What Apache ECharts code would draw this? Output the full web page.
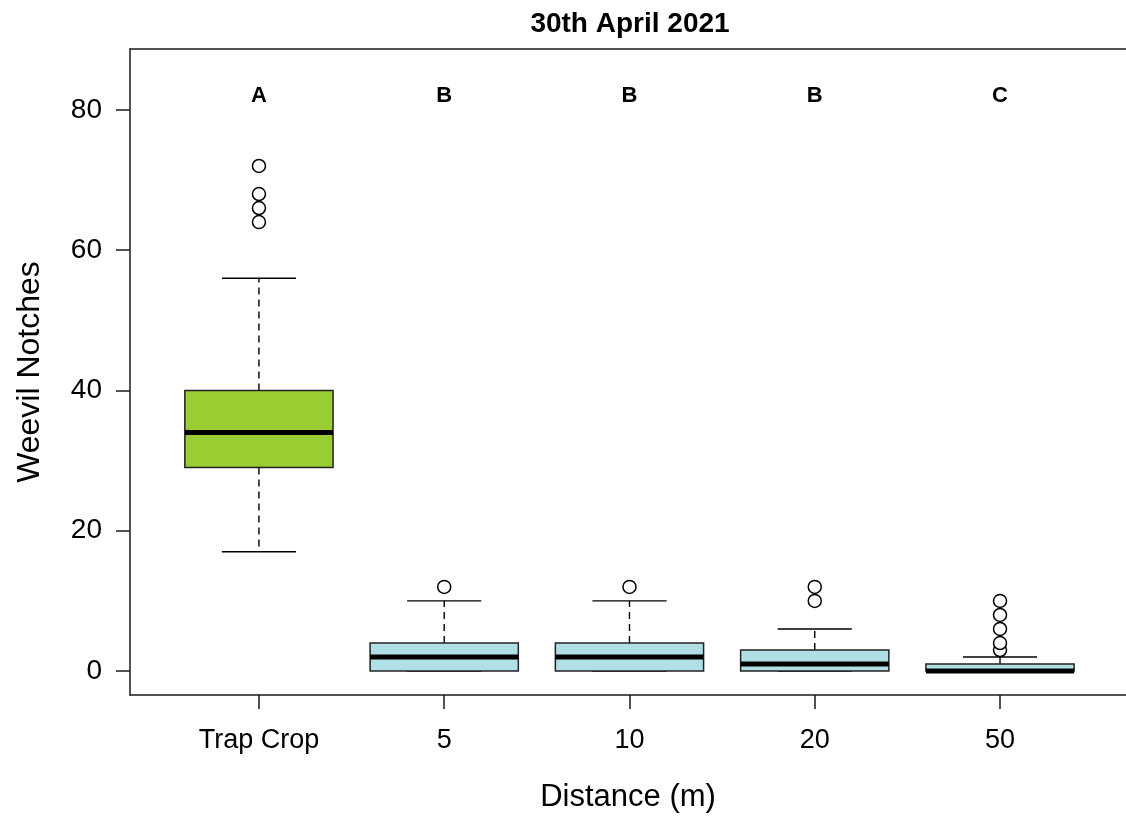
<!DOCTYPE html>
<html>
<head>
<meta charset="utf-8">
<script src="https://cdn.jsdelivr.net/npm/echarts@6/dist/echarts.min.js"></script>
<style>
html,body{margin:0;padding:0;background:#fff;}
#chart{width:1126px;height:818px;}
</style>
</head>
<body>
<div id="chart"></div>
<script>
// ---- data ----
var categories = ['Trap Crop', '5', '10', '20', '50'];
var lowerWhisker = [17, 0, 0, 0, 0];
var q1 = [29, 0, 0, 0, 0];
var median = [34, 2, 2, 1, 0];
var q3 = [40, 4, 4, 3, 1];
var upperWhisker = [56, 10, 10, 6, 2];
var outliers = [[64, 66, 68, 72], [12], [12], [10, 12], [3, 4, 6, 8, 10]];
var letters = ['A', 'B', 'B', 'B', 'C'];
var letterY = 82;
var yTicks = [0, 20, 40, 60, 80];

// ---- styles ----
var boxFill = ['#9ACD32', '#B0E0E6', '#B0E0E6', '#B0E0E6', '#B0E0E6'];
var FONT = '"Liberation Sans", Arial, Helvetica, sans-serif';
var AXIS_COLOR = '#1a1a1a';

var positions = categories.map(function (c, i) { return i + 1; });
var boxData = positions.map(function (x, i) {
  return [x, lowerWhisker[i], q1[i], median[i], q3[i], upperWhisker[i], i];
});
var outlierData = [];
outliers.forEach(function (arr, i) {
  arr.forEach(function (v) { outlierData.push([positions[i], v]); });
});
var letterData = positions.map(function (x, i) { return [x, letterY, letters[i]]; });

function renderBox(params, api) {
  var x = api.value(0);
  var idx = api.value(6);
  var pLow = api.coord([x, api.value(1)]);
  var pQ1 = api.coord([x, api.value(2)]);
  var pMed = api.coord([x, api.value(3)]);
  var pQ3 = api.coord([x, api.value(4)]);
  var pHigh = api.coord([x, api.value(5)]);
  var halfW = api.size([0.8, 0])[0] / 2;
  var capW = halfW / 2;
  var cx = pMed[0];
  var lineStyle = { stroke: '#000', lineWidth: 1.4 };
  var dashStyle = { stroke: '#000', lineWidth: 1.4, lineDash: [7, 5] };
  return {
    type: 'group',
    children: [
      { type: 'line', shape: { x1: cx, y1: pQ3[1], x2: cx, y2: pHigh[1] }, style: dashStyle },
      { type: 'line', shape: { x1: cx, y1: pQ1[1], x2: cx, y2: pLow[1] }, style: dashStyle },
      { type: 'line', shape: { x1: cx - capW, y1: pHigh[1], x2: cx + capW, y2: pHigh[1] }, style: lineStyle },
      { type: 'line', shape: { x1: cx - capW, y1: pLow[1], x2: cx + capW, y2: pLow[1] }, style: lineStyle },
      { type: 'rect', shape: { x: cx - halfW, y: pQ3[1], width: 2 * halfW, height: pQ1[1] - pQ3[1] },
        style: { fill: boxFill[idx], stroke: '#222', lineWidth: 1.5 } },
      { type: 'line', shape: { x1: cx - halfW, y1: pMed[1], x2: cx + halfW, y2: pMed[1] },
        style: { stroke: '#000', lineWidth: 5 } }
    ]
  };
}

var X_MIN = 0.304, X_MAX = 5.68;

var chart = echarts.init(document.getElementById('chart'), null, { renderer: 'canvas' });
chart.setOption({
  backgroundColor: '#fff',
  animation: false,
  title: {
    text: '30th April 2021',
    left: 625,
    textAlign: 'center',
    top: 5,
    textStyle: { fontFamily: FONT, fontSize: 28, fontWeight: 'bold', color: '#000' }
  },
  grid: {
    left: 130, top: 49, right: 0, height: 648,
    show: false
  },
  xAxis: [{
    type: 'value',
    min: X_MIN, max: X_MAX,
    splitLine: { show: false },
    axisLine: { show: true, onZero: false, lineStyle: { color: AXIS_COLOR, width: 1.5 } },
    axisTick: { show: true, inside: false, length: 14, customValues: positions,
      lineStyle: { color: AXIS_COLOR, width: 1.5 } },
    axisLabel: {
      customValues: positions,
      formatter: function (v) { return categories[Math.round(v) - 1]; },
      fontFamily: FONT, fontSize: 27, color: '#000', margin: 32
    },
    name: 'Distance (m)',
    nameLocation: 'middle',
    nameGap: 87,
    nameTextStyle: { fontFamily: FONT, fontSize: 31, color: '#000' }
  }, {
    type: 'value',
    position: 'top',
    min: X_MIN, max: X_MAX,
    splitLine: { show: false },
    axisLine: { show: true, onZero: false, lineStyle: { color: AXIS_COLOR, width: 1.5 } },
    axisTick: { show: false },
    axisLabel: { show: false }
  }],
  yAxis: {
    type: 'value',
    min: -3.41, max: 88.67,
    splitLine: { show: false },
    axisLine: { show: true, onZero: false, lineStyle: { color: AXIS_COLOR, width: 1.5 } },
    axisTick: { show: true, inside: false, length: 14, customValues: yTicks,
      lineStyle: { color: AXIS_COLOR, width: 1.5 } },
    axisLabel: {
      customValues: yTicks,
      fontFamily: FONT, fontSize: 28, color: '#000', margin: 28
    },
    name: 'Weevil Notches',
    nameLocation: 'middle',
    nameGap: 84,
    nameRotate: 90,
    nameTextStyle: { fontFamily: FONT, fontSize: 32, color: '#000' }
  },
  series: [
    {
      type: 'custom',
      renderItem: renderBox,
      data: boxData,
      encode: { x: 0, y: [1, 2, 3, 4, 5] },
      z: 2
    },
    {
      type: 'scatter',
      data: outlierData,
      symbol: 'circle',
      symbolSize: 13,
      itemStyle: { color: '#fff', borderColor: '#000', borderWidth: 1.5, opacity: 1 },
      z: 3
    },
    {
      type: 'scatter',
      data: letterData,
      symbolSize: 0,
      itemStyle: { opacity: 1 },
      label: {
        show: true,
        position: 'inside',
        formatter: function (p) { return p.data[2]; },
        fontFamily: FONT, fontSize: 22, fontWeight: 'bold', color: '#000',
        textBorderWidth: 0
      },
      z: 4
    }
  ]
});
</script>
</body>
</html>
